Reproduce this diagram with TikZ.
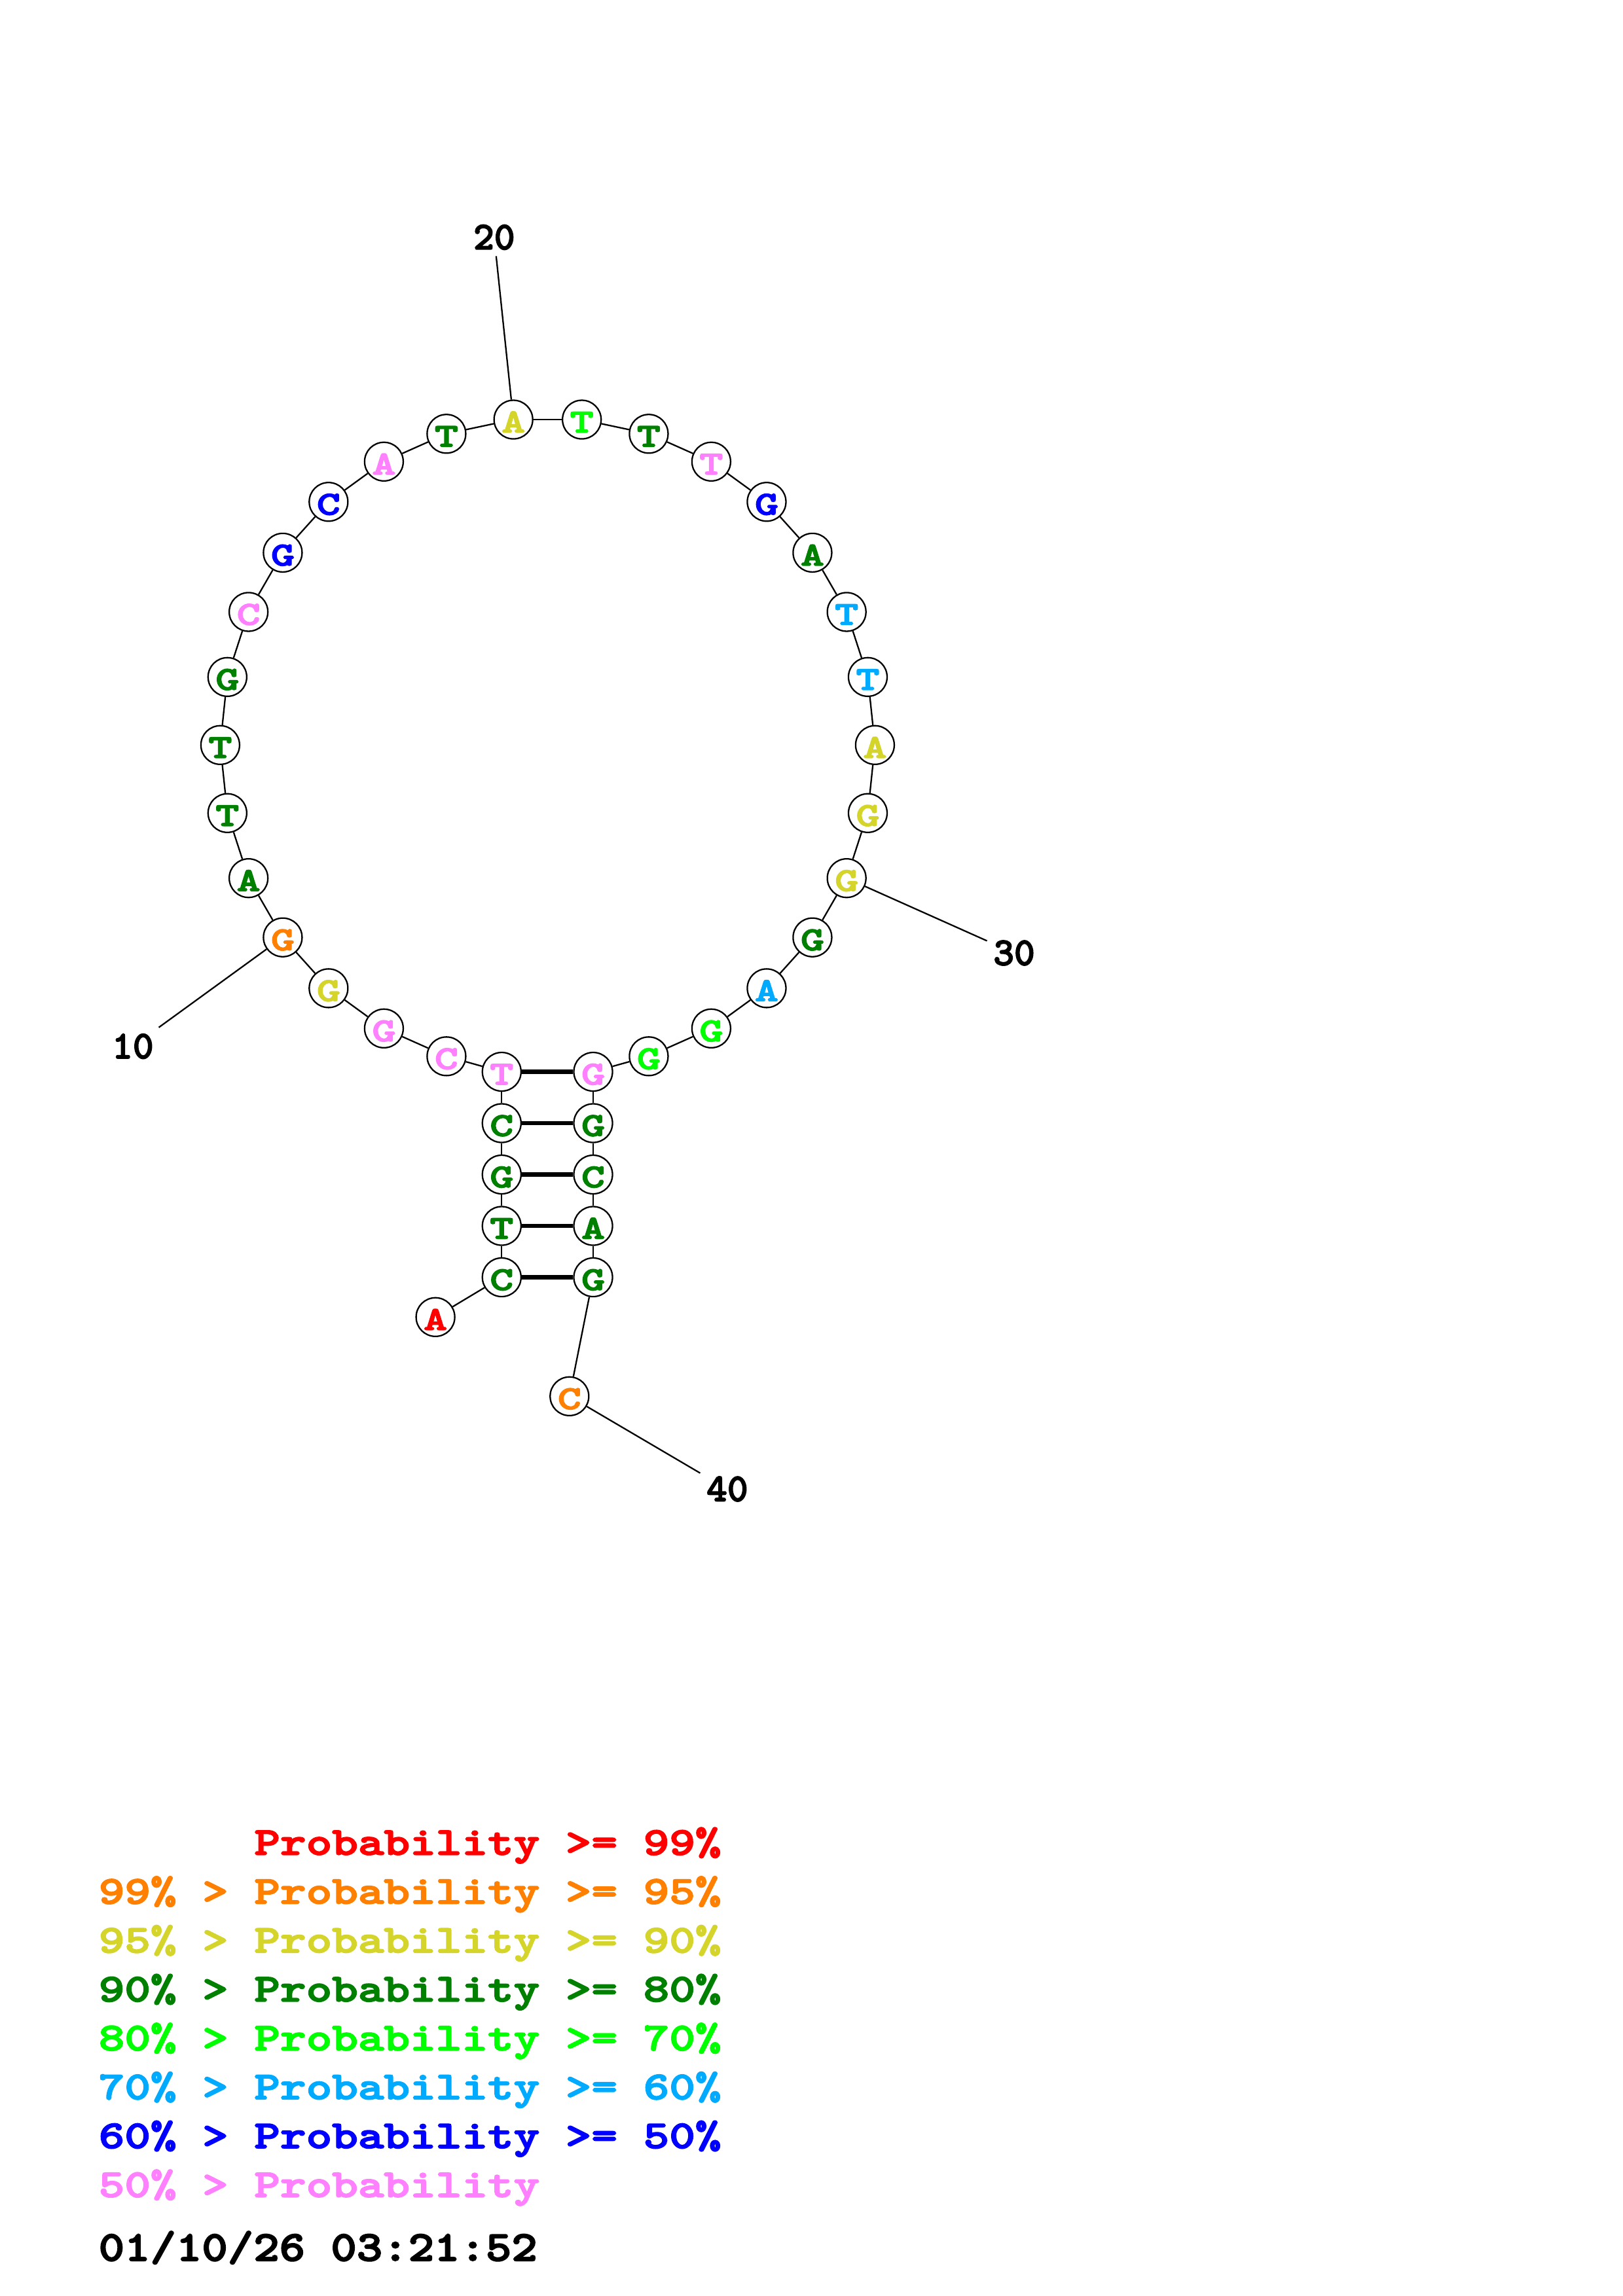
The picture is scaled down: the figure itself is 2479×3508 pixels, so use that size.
\documentclass[tikz,border=0pt]{standalone}
\usepackage{fontspec}
\newfontfamily\nucf{lmmonolt10-bold}[Extension=.otf, FakeStretch=1.35, FakeBold=3]
\newfontfamily\legf{lmmonolt10-bold}[Extension=.otf, FakeStretch=1.255, FakeBold=3]
\newfontfamily\datef{lmmonolt10-bold}[Extension=.otf, FakeStretch=1.154, FakeBold=3]
\newfontfamily\numf{lmmonolt10-bold}[Extension=.otf, FakeBold=2.5]
\definecolor{cr}{RGB}{255,0,0}
\definecolor{co}{RGB}{255,128,0}
\definecolor{cy}{RGB}{212,212,42}
\definecolor{cg}{RGB}{0,128,0}
\definecolor{cl}{RGB}{0,255,0}
\definecolor{cc}{RGB}{0,170,255}
\definecolor{cb}{RGB}{0,0,255}
\definecolor{cp}{RGB}{255,128,255}
\tikzset{
  nt/.style={circle, draw=black, line width=0.65pt, fill=white, minimum size=0.59cm, inner sep=0pt,
    font=\nucf\fontsize{14.5pt}{14.5pt}\selectfont, text height=0.39cm, text depth=0pt},
  bb/.style={line width=0.65pt, black},
  bp/.style={line width=1.9pt, black},
  lab/.style={font=\numf\fontsize{17.2pt}{17.2pt}\selectfont, inner sep=0.09cm},
  leg/.style={font=\legf\fontsize{17.1pt}{17.1pt}\selectfont, inner sep=0pt, anchor=base west},
}
\begin{document}
\begin{tikzpicture}[x=0.01cm, y=-0.01cm]
\path[use as bounding box, fill=white] (0,0) rectangle (2479,3508);
% stem and tails
\node[nt,text=cr] (n1) at (665.1,2012.3) {A};
\node[nt,text=cg] (n2) at (766.3,1951.5) {C};
\node[nt,text=cg] (n3) at (766.3,1873) {T};
\node[nt,text=cg] (n4) at (766.3,1794.5) {G};
\node[nt,text=cg] (n5) at (766.3,1716) {C};
\node[nt,text=cp] (n6) at (766.3,1637.5) {T};
\node[nt,text=cp] (n35) at (906,1637.5) {G};
\node[nt,text=cg] (n36) at (906,1716) {G};
\node[nt,text=cg] (n37) at (906,1794.5) {C};
\node[nt,text=cg] (n38) at (906,1873) {A};
\node[nt,text=cg] (n39) at (906,1951.5) {G};
\node[nt,text=co] (n40) at (869.8,2133.3) {C};
% hairpin loop
\foreach \i/\b/\c in {7/C/cp,8/G/cp,9/G/cy,10/G/co,11/A/cg,12/T/cg,13/T/cg,14/G/cg,15/C/cp,16/G/cb,17/C/cb,18/A/cp,19/T/cg,20/A/cy,21/T/cl,22/T/cg,23/T/cp,24/G/cb,25/A/cg,26/T/cc,27/T/cc,28/A/cy,29/G/cy,30/G/cy,31/G/cg,32/A/cc,33/G/cl,34/G/cl}
  \node[nt,text=\c] (n\i) at ({836.4+500*cos(336-12*\i)},{1138.3-500*sin(336-12*\i)}) {\b};
% backbone
\foreach \i [evaluate=\i as \j using int(\i+1)] in {1,...,39}
  \draw[bb] (n\i) -- (n\j);
% base pairs
\foreach \i [evaluate=\i as \j using int(41-\i)] in {2,...,6}
  \draw[bp] (n\i) -- (n\j);
% numbering
\node[lab] (l10) at (202.9,1598.6) {10};
\node[lab] (l20) at (754.8,362.5) {20};
\node[lab] (l30) at (1549,1456) {30};
\node[lab] (l40) at (1110.9,2275) {40};
\draw[bb] (n10) -- (l10);
\draw[bb] (n20) -- (l20);
\draw[bb] (n30) -- (l30);
\draw[bb] (n40) -- (l40);
% legend
\node[leg,text=cr] (g1) at (150,2833.7) {\phantom{99\% > }Probability >= 99\%};
\node[leg,text=co] (g2) at (150,2908.4) {99\% > Probability >= 95\%};
\node[leg,text=cy] (g3) at (150,2983.1) {95\% > Probability >= 90\%};
\node[leg,text=cg] (g4) at (150,3057.8) {90\% > Probability >= 80\%};
\node[leg,text=cl] (g5) at (150,3132.5) {80\% > Probability >= 70\%};
\node[leg,text=cc] (g6) at (150,3207.2) {70\% > Probability >= 60\%};
\node[leg,text=cb] (g7) at (150,3281.9) {60\% > Probability >= 50\%};
\node[leg,text=cp] (g8) at (150,3356.6) {50\% > Probability};
\node[leg,font=\datef\fontsize{18.5pt}{18.5pt}\selectfont] (dt) at (150,3454) {01/10/26 03:21:52};
\end{tikzpicture}
\end{document}
